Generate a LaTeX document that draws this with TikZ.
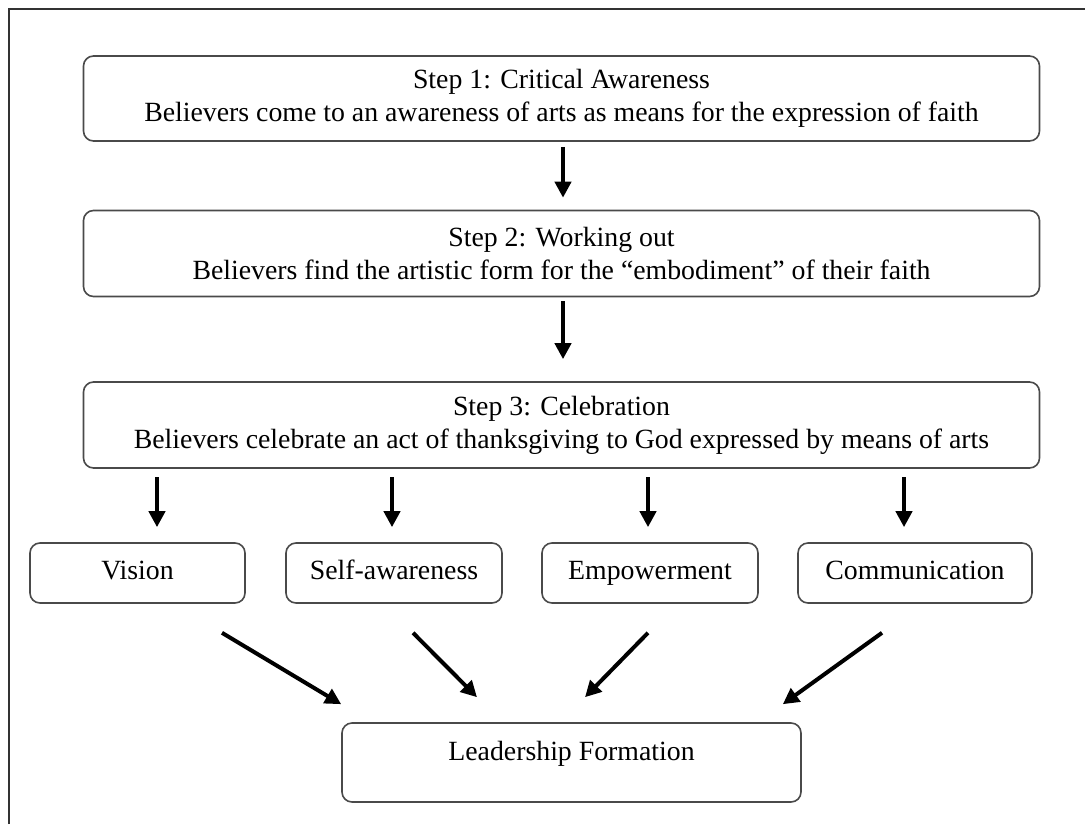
\documentclass[tikz,border=0pt]{standalone}
\usepackage{fontspec}
\setmainfont{Liberation Serif}
\usetikzlibrary{arrows.meta,calc}
\definecolor{boxgray}{HTML}{4A4A4A}
\definecolor{framegray}{HTML}{333333}
\begin{document}
\begin{tikzpicture}[x=0.5pt,y=-0.5pt,
  box/.style={draw=boxgray, line width=0.8pt, rounded corners=5pt, align=center, inner sep=0pt,
    font=\fontsize{13.9}{16.5}\selectfont},
  small/.style={box, minimum height=30pt, text height=9.5pt, text depth=3pt},
  arr/.style={line width=2pt, -{Triangle[length=8pt,width=8pt]}},
  frame/.style={draw=framegray, line width=1pt}]
\useasboundingbox (0,0) rectangle (1085,824);
\draw[frame] (9,824) -- (9,9) -- (1085,9);

\node[box, minimum width=478pt, minimum height=42.5pt] (s1) at (561.5,98.5)
  {Step 1: Critical Awareness\\Believers come to an awareness of arts as means for the expression of faith};
\node[box, minimum width=478pt, minimum height=43pt] (s2) at (561.5,253.5)
  {Step 2: Working out\\Believers find the artistic form for the ``embodiment'' of their faith};
\node[box, minimum width=478pt, minimum height=43pt] (s3) at (561.5,425)
  {Step 3: Celebration\\Believers celebrate an act of thanksgiving to God expressed by means of arts};

\node[small, minimum width=107.5pt] (vision) at (137.5,573) {Vision};
\node[small, minimum width=108pt] (self) at (394,573) {Self-awareness};
\node[small, minimum width=108pt] (emp) at (650,573) {Empowerment};
\node[small, minimum width=117pt] (comm) at (915,573) {Communication};

\node[box, minimum width=229.5pt, minimum height=39.5pt, text height=9.5pt, text depth=12pt] (lead) at (571.5,762.5) {Leadership Formation};

\draw[arr] ($(s1.south)+(1.5,5)$) -- ($(s2.north)+(1.5,-12)$);
\draw[arr] ($(s2.south)+(1.5,4)$) -- ($(s3.north)+(1.5,-22)$);

\draw[arr] ($(vision.north)+(19.5,-65)$) -- ($(vision.north)+(19.5,-15)$);
\draw[arr] ($(self.north)+(-2,-65)$) -- ($(self.north)+(-2,-15)$);
\draw[arr] ($(emp.north)+(-2,-65)$) -- ($(emp.north)+(-2,-15)$);
\draw[arr] ($(comm.north)+(-11,-65)$) -- ($(comm.north)+(-11,-15)$);

\draw[arr] ($(vision.south)+(84.5,29)$) -- ($(lead.north west)+(0,-18)$);
\draw[arr] ($(self.south)+(19,29)$) -- ($(lead.north)+(-94.5,-25)$);
\draw[arr] ($(emp.south)+(-2,29)$) -- ($(lead.north)+(13.5,-25)$);
\draw[arr] ($(comm.south)+(-33,29)$) -- ($(lead.north east)+(-19,-18)$);
\end{tikzpicture}
\end{document}
